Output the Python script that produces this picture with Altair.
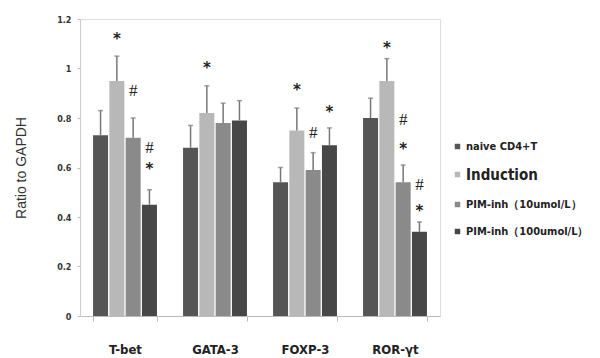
import altair as alt
import pandas as pd

categories = ["T-bet", "GATA-3", "FOXP-3", "ROR-γt"]
series = ["naive CD4+T", "Induction", "PIM-inh（10umol/L）", "PIM-inh（100umol/L）"]
colors = ["#555555", "#b8b8b8", "#8a8a8a", "#474747"]

values = {
    "naive CD4+T":          [0.73, 0.68, 0.54, 0.80],
    "Induction":            [0.95, 0.82, 0.75, 0.95],
    "PIM-inh（10umol/L）":  [0.72, 0.78, 0.59, 0.54],
    "PIM-inh（100umol/L）": [0.45, 0.79, 0.69, 0.34],
}
errors = {
    "naive CD4+T":          [0.10, 0.09, 0.06, 0.08],
    "Induction":            [0.10, 0.11, 0.09, 0.09],
    "PIM-inh（10umol/L）":  [0.08, 0.08, 0.07, 0.07],
    "PIM-inh（100umol/L）": [0.06, 0.08, 0.07, 0.04],
}

# significance marks: category, series index, y position, symbol
mark_cat = ["T-bet", "T-bet", "T-bet", "T-bet", "GATA-3", "FOXP-3", "FOXP-3", "FOXP-3",
            "ROR-γt", "ROR-γt", "ROR-γt", "ROR-γt", "ROR-γt"]
mark_ser = [1, 2, 3, 3, 1, 1, 2, 3, 1, 2, 2, 3, 3]
mark_y = [1.135, 0.91, 0.68, 0.61, 1.02, 0.93, 0.74, 0.84, 1.10, 0.79, 0.69, 0.53, 0.44]
mark_txt = ["*", "#", "#", "*", "*", "*", "#", "*", "*", "#", "*", "#", "*"]

rows = []
for s in series:
    for i, c in enumerate(categories):
        v = values[s][i]
        rows.append({"cat": c, "series": s, "value": v, "upper": v + errors[s][i]})
df = pd.DataFrame(rows)

mdf = pd.DataFrame({
    "cat": mark_cat,
    "series": [series[i] for i in mark_ser],
    "y": mark_y,
    "txt": mark_txt,
})

FONT = "Liberation Sans Narrow, DejaVu Sans Condensed, Liberation Sans, sans-serif"

x = alt.X("cat:N", sort=categories,
          scale=alt.Scale(paddingInner=0.29, paddingOuter=0.145),
          axis=alt.Axis(title=None, labelAngle=0, tickBand="extent", tickSize=5,
                        tickColor="#bbbbbb", domainColor="#bbbbbb",
                        labelFont=FONT, labelFontWeight="bold", labelFontSize=13,
                        labelColor="#222222", labelPadding=22))
xoff = alt.XOffset("series:N", sort=series, scale=alt.Scale(paddingInner=0.08))
yscale = alt.Scale(domain=[0, 1.2], nice=False)

bars = alt.Chart(df).mark_bar().encode(
    x=x,
    xOffset=xoff,
    y=alt.Y("value:Q", scale=yscale,
            axis=alt.Axis(title="Ratio to GAPDH", values=[0, 0.2, 0.4, 0.6, 0.8, 1.0, 1.2],
                          labelExpr="format(datum.value, '~g')", grid=False,
                          tickSize=3, tickColor="#bbbbbb", domainColor="#cccccc",
                          labelFont=FONT, labelFontWeight="bold", labelFontSize=9,
                          labelColor="#333333", labelPadding=6,
                          titleFont="Liberation Sans, Arial, sans-serif",
                          titleFontWeight="normal", titleFontSize=14,
                          titleColor="#333333", titlePadding=28)),
    color=alt.Color("series:N", sort=series,
                    scale=alt.Scale(domain=series, range=colors),
                    legend=alt.Legend(title=None, orient="none", legendX=372, legendY=122,
                                      symbolType="square", symbolSize=30,
                                      symbolOffset=0,
                                      labelFont=FONT, labelFontWeight="bold",
                                      labelFontSize=alt.ExprRef("datum.label == 'Induction' ? 15 : 11"),
                                      labelColor="#222222", labelOffset=3,
                                      rowPadding=15, labelLimit=300)),
)

err = alt.Chart(df).mark_rule(color="#777777", strokeWidth=1.5).encode(
    x=x, xOffset=xoff,
    y=alt.Y("value:Q", scale=yscale),
    y2="upper:Q",
)
caps = alt.Chart(df).mark_tick(color="#777777", thickness=1.5, size=5, orient="horizontal").encode(
    x=x, xOffset=xoff,
    y=alt.Y("upper:Q", scale=yscale),
)

stars = alt.Chart(mdf).transform_filter("datum.txt == '*'").mark_text(
    fontSize=15, fontWeight="bold", color="#222222", baseline="middle", dy=4,
    font="DejaVu Sans").encode(
    x=x, xOffset=xoff, y=alt.Y("y:Q", scale=yscale), text="txt:N")
hashes = alt.Chart(mdf).transform_filter("datum.txt == '#'").mark_text(
    fontSize=17, fontWeight="normal", color="#222222", baseline="middle",
    font="Liberation Serif, serif").encode(
    x=x, xOffset=xoff, y=alt.Y("y:Q", scale=yscale), text="txt:N")

chart = alt.layer(bars, err, caps, stars, hashes).properties(
    width=360, height=297,
    autosize=alt.AutoSizeParams(type="none"),
    padding={"left": 72, "top": 11, "right": 150, "bottom": 42},
).configure_view(stroke=None).configure(background="white")

chart.save("out.html", embed_options={"renderer": "svg", "actions": False})
